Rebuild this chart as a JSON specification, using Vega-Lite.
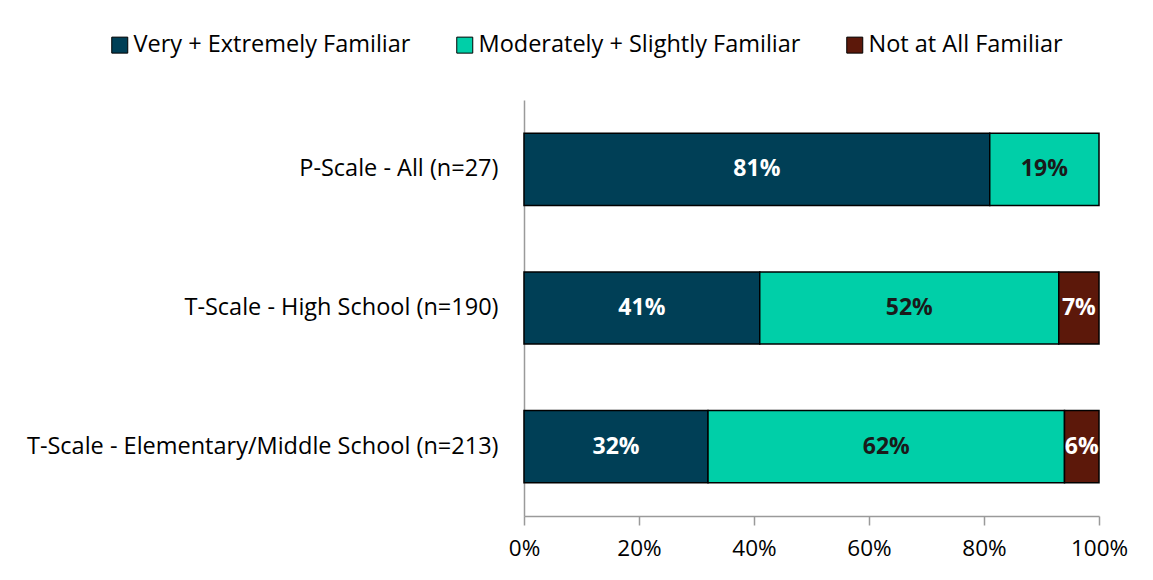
{
  "$schema": "https://vega.github.io/schema/vega-lite/v6.json",
  "width": 575,
  "height": 416,
  "autosize": {"type": "none"},
  "padding": {"left": 524, "top": 100, "right": 54, "bottom": 64},
  "background": "white",
  "config": {
    "view": {"stroke": null},
    "font": "Open Sans"
  },
  "data": {
    "values": [
      {"group": "P-Scale - All (n=27)", "series": "Very + Extremely Familiar", "rank": 1, "pct": 81},
      {"group": "P-Scale - All (n=27)", "series": "Moderately + Slightly Familiar", "rank": 2, "pct": 19},
      {"group": "T-Scale - High School (n=190)", "series": "Very + Extremely Familiar", "rank": 1, "pct": 41},
      {"group": "T-Scale - High School (n=190)", "series": "Moderately + Slightly Familiar", "rank": 2, "pct": 52},
      {"group": "T-Scale - High School (n=190)", "series": "Not at All Familiar", "rank": 3, "pct": 7},
      {"group": "T-Scale - Elementary/Middle School (n=213)", "series": "Very + Extremely Familiar", "rank": 1, "pct": 32},
      {"group": "T-Scale - Elementary/Middle School (n=213)", "series": "Moderately + Slightly Familiar", "rank": 2, "pct": 62},
      {"group": "T-Scale - Elementary/Middle School (n=213)", "series": "Not at All Familiar", "rank": 3, "pct": 6}
    ]
  },
  "transform": [
    {"stack": "pct", "groupby": ["group"], "sort": [{"field": "rank", "order": "ascending"}], "as": ["x0", "x1"]},
    {"calculate": "(datum.x0 + datum.x1) / 2", "as": "xmid"},
    {"calculate": "datum.pct + '%'", "as": "label"}
  ],
  "encoding": {
    "y": {
      "field": "group",
      "type": "nominal",
      "sort": ["P-Scale - All (n=27)", "T-Scale - High School (n=190)", "T-Scale - Elementary/Middle School (n=213)"],
      "scale": {"paddingInner": 0.48, "paddingOuter": 0.24},
      "axis": {
        "title": null,
        "ticks": false,
        "domainColor": "#9a9a9a",
        "domainWidth": 1.5,
        "labelFontSize": 23.5,
        "labelColor": "#000000",
        "labelPadding": 26,
        "labelLimit": 600
      }
    }
  },
  "layer": [
    {
      "mark": {"type": "bar", "stroke": "#000000", "strokeWidth": 1.5},
      "encoding": {
        "x": {
          "field": "x0",
          "type": "quantitative",
          "scale": {"domain": [0, 100], "nice": false},
          "axis": {
            "title": null,
            "values": [0, 20, 40, 60, 80, 100],
            "labelExpr": "datum.value + '%'",
            "labelFlush": false,
            "grid": false,
            "domainColor": "#9a9a9a",
            "domainWidth": 1.5,
            "tickColor": "#9a9a9a",
            "tickWidth": 1.5,
            "tickSize": 9,
            "labelFontSize": 22.5,
            "labelColor": "#000000",
            "labelPadding": 12
          }
        },
        "x2": {"field": "x1"},
        "color": {
          "field": "series",
          "type": "nominal",
          "scale": {
            "domain": ["Very + Extremely Familiar", "Moderately + Slightly Familiar", "Not at All Familiar"],
            "range": ["#003f56", "#00cfa8", "#5c180a"]
          },
          "legend": {
            "title": null,
            "orient": "none",
            "direction": "horizontal",
            "legendX": -416,
            "legendY": -67,
            "symbolType": "square",
            "symbolSize": 256,
            "symbolStrokeColor": "#000000",
            "symbolStrokeWidth": 1,
            "symbolOpacity": 1,
            "labelFontSize": 23.5,
            "labelColor": "#000000",
            "labelOffset": 2,
            "labelLimit": 400,
            "columnPadding": 42
          }
        }
      }
    },
    {
      "mark": {"type": "text", "fontWeight": "bold", "fontSize": 23, "baseline": "middle", "align": "center"},
      "encoding": {
        "x": {"field": "xmid", "type": "quantitative"},
        "text": {"field": "label", "type": "nominal"},
        "color": {
          "condition": {"test": "datum.series === 'Moderately + Slightly Familiar'", "value": "#1a1a1a"},
          "value": "#ffffff"
        }
      }
    }
  ]
}
